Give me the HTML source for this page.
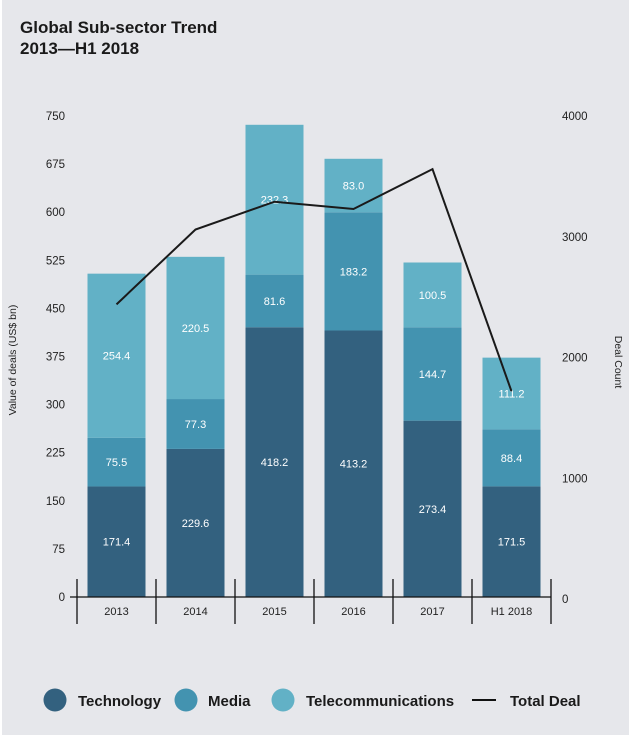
<!DOCTYPE html>
<html><head><meta charset="utf-8"><style>
html,body{margin:0;padding:0;background:#fff}
#wrap{position:absolute;left:2px;top:0;width:627px;height:735px;background:#e6e7eb}
svg{position:absolute;left:0;top:0}
text{font-family:"Liberation Sans",sans-serif}
</style></head><body>
<div id="wrap"></div>
<svg id="chart" width="634" height="735"></svg>
<script>
const categories=["2013","2014","2015","2016","2017","H1 2018"];
const technology=[171.4,229.6,418.2,413.2,273.4,171.5];
const media=[75.5,77.3,81.6,183.2,144.7,88.4];
const telecom=[254.4,220.5,232.3,83.0,100.5,111.2];
const totalDeal=[2440,3060,3290,3230,3560,1720];
const leftTicks=[0,75,150,225,300,375,450,525,600,675,750];
const rightTicks=[0,1000,2000,3000,4000];
const colors={tech:"#33617f",media:"#4393b0",tel:"#62b1c6"};
const NS="http://www.w3.org/2000/svg";
const svg=document.getElementById('chart');
function el(t,a,txt){const e=document.createElementNS(NS,t);for(const k in a)e.setAttribute(k,a[k]);if(txt!==undefined)e.textContent=txt;svg.appendChild(e);return e;}
const y0=597;
const yTick=v=>y0-(v/750)*(y0-116);
const yL=v=>y0-v*0.645;
const yR=v=>599-(v/4000)*(599-116);
const bandL=77,bandW=79;
const xC=i=>bandL+bandW*(i+0.5);
const barW=58;
let t;
t=el('text',{x:20,y:33,'font-size':17,fill:'#1a1a1a','font-weight':'bold'},'Global Sub-sector Trend');

t=el('text',{x:20,y:54,'font-size':17,fill:'#1a1a1a','font-weight':'bold'},'2013\u2014H1 2018');

leftTicks.forEach(v=>{const e=el('text',{x:65,y:yTick(v)+4,'font-size':11.5,fill:'#222','text-anchor':'end'},v);
});
rightTicks.forEach(v=>{const e=el('text',{x:562,y:yR(v)+4,'font-size':11.5,fill:'#222'},v);
});
t=el('text',{x:0,y:0,'font-size':10.5,fill:'#222','text-anchor':'middle',transform:'translate(16,360) rotate(-90)'},'Value of deals (US$ bn)');

t=el('text',{x:0,y:0,'font-size':10.5,fill:'#222','text-anchor':'middle',transform:'translate(615,362) rotate(90)'},'Deal Count');

categories.forEach((c,i)=>{
  const x=xC(i)-barW/2;
  const segs=[[0,technology[i],colors.tech,'tech'],[technology[i],technology[i]+media[i],colors.media,'media'],[technology[i]+media[i],technology[i]+media[i]+telecom[i],colors.tel,'telecom']];
  segs.forEach(s=>{
    const r=el('rect',{x:x,y:yL(s[1]),width:barW,height:yL(s[0])-yL(s[1]),fill:s[2]});
    
    
    const lab=[technology,media,telecom][['tech','media','telecom'].indexOf(s[3])][i];
    const tx=el('text',{x:xC(i),y:(yL(s[0])+yL(s[1]))/2+4,'font-size':11,fill:'#fff','text-anchor':'middle'},lab.toFixed(1));
    
  });
  const l=el('text',{x:xC(i),y:615,'font-size':11,fill:'#222','text-anchor':'middle'},c);
  
});
let a=el('line',{x1:70,y1:y0,x2:bandL+bandW*6,y2:y0,stroke:'#111','stroke-width':1.3});

for(let i=0;i<=6;i++){const d=el('line',{x1:bandL+bandW*i,y1:579,x2:bandL+bandW*i,y2:624,stroke:'#111','stroke-width':1.3});
}
const pts=totalDeal.map((v,i)=>xC(i)+','+yR(v)).join(' ');
a=el('polyline',{points:pts,fill:'none',stroke:'#1a1a1a','stroke-width':2});

const legend=[[55,colors.tech,'Technology',78],[186,colors.media,'Media',208],[283,colors.tel,'Telecommunications',306]];
legend.forEach(l=>{
  const c=el('circle',{cx:l[0],cy:700,r:11.5,fill:l[1]});
  
  const tx=el('text',{x:l[3],y:706,'font-size':15,fill:'#1a1a1a','font-weight':'bold'},l[2]);
  
});
a=el('line',{x1:472,y1:700,x2:496,y2:700,stroke:'#111','stroke-width':2});

t=el('text',{x:510,y:706,'font-size':15,fill:'#1a1a1a','font-weight':'bold'},'Total Deal');

</script>
</body></html>
